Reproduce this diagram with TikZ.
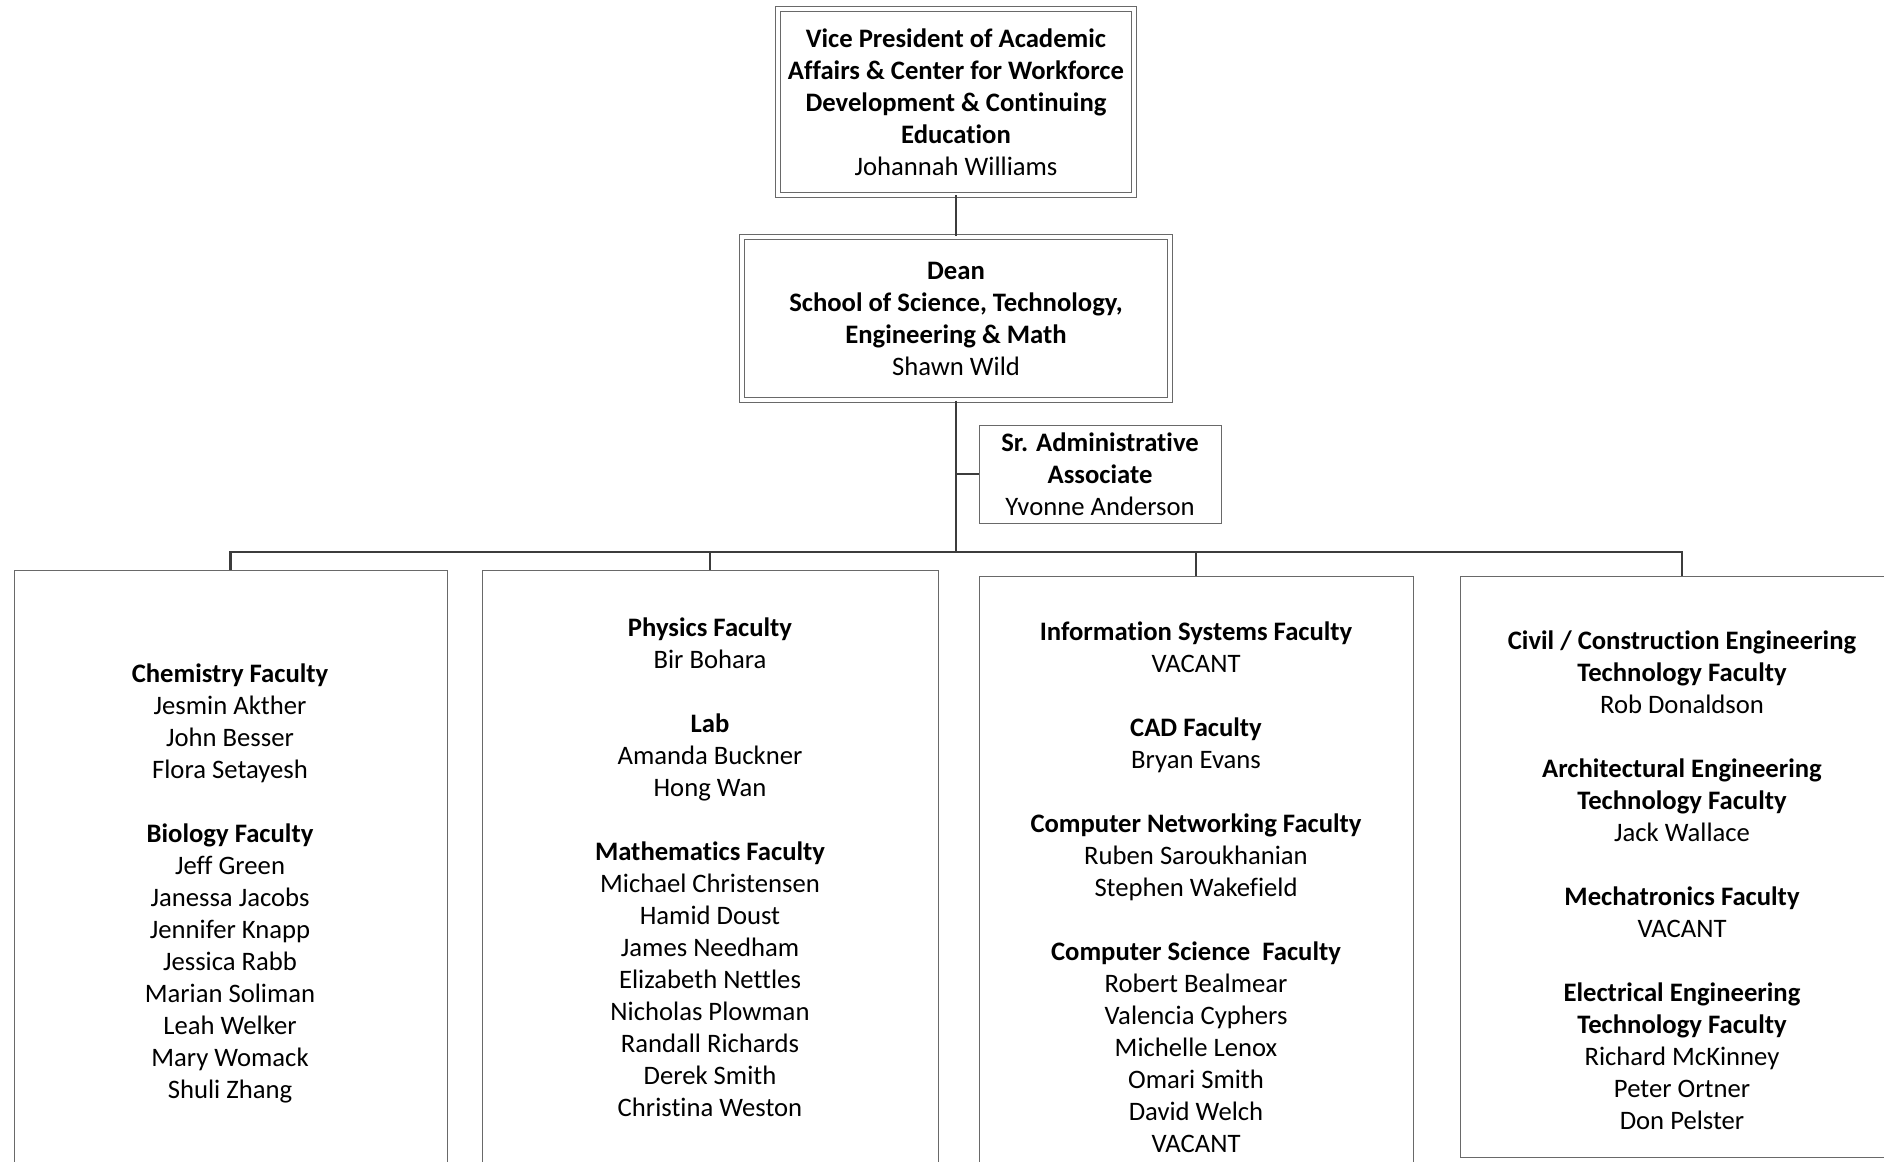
\documentclass[tikz,border=0pt]{standalone}
\usepackage{fontspec}
\setmainfont{Carlito}[Ligatures=NoCommon]
\usetikzlibrary{positioning}
\definecolor{framegray}{RGB}{105,105,105}
\definecolor{linkgray}{RGB}{60,60,60}

\tikzset{
  person/.style={font=\fontsize{20}{24}\selectfont, align=center, inner sep=0pt},
  frame/.style={draw=framegray, line width=0.75pt, inner sep=0pt},
  dblframe/.style={frame, double, double distance=3pt},
  link/.style={draw=linkgray, line width=1.5pt},
  trunk/.style={draw=linkgray, line width=2pt},
}

\begin{document}
\begin{tikzpicture}[x=0.75pt, y=-0.75pt]
  \useasboundingbox (0,0) rectangle (1884,1162);
  \clip (0,0) rectangle (1884,1162);

  % --- Vice president and dean ---
  \node[dblframe, person, minimum width=267pt, minimum height=139.5pt] (vp) at (956,102)
    {\textbf{Vice President of Academic}\\\textbf{Affairs \& Center for Workforce}\\
     \textbf{Development \& Continuing}\\\textbf{Education}\\Johannah Williams};
  \node[dblframe, person, minimum width=321pt, minimum height=122.25pt] (dean) at (956,318.5)
    {\textbf{Dean}\\\textbf{School of Science, Technology,}\\\textbf{Engineering \& Math}\\Shawn Wild};

  % --- Assistant ---
  \node[frame, person, minimum width=181.5pt, minimum height=73.5pt] (admin) at (1100,474)
    {\textbf{Sr. Administrative}\\\textbf{Associate}\\Yvonne Anderson};

  % --- Faculty boxes ---
  \node[frame, minimum width=324.75pt, minimum height=480pt, anchor=north] (box1) at (230.5,570) {};
  \node[frame, minimum width=342pt, minimum height=480pt, anchor=north] (box2) at (710,570) {};
  \node[frame, minimum width=325.5pt, minimum height=480pt, anchor=north] (box3) at (1196,576) {};
  \node[frame, minimum width=333pt, minimum height=435.75pt, anchor=north] (box4) at (1682,576) {};

  \node[person] (chem) at (230,883)
    {\textbf{Chemistry Faculty}\\Jesmin Akther\\John Besser\\Flora Setayesh\\[24pt]
     \textbf{Biology Faculty}\\Jeff Green\\Janessa Jacobs\\Jennifer Knapp\\Jessica Rabb\\
     Marian Soliman\\Leah Welker\\Mary Womack\\Shuli Zhang};
  \node[person] (phys) at (710,867)
    {\textbf{Physics Faculty}\\Bir Bohara\\[24pt]
     \textbf{Lab}\\Amanda Buckner\\Hong Wan\\[24pt]
     \textbf{Mathematics Faculty}\\Michael Christensen\\Hamid Doust\\James Needham\\
     Elizabeth Nettles\\Nicholas Plowman\\Randall Richards\\Derek Smith\\Christina Weston};
  \node[person] (info) at (1196,887)
    {\textbf{Information Systems Faculty}\\VACANT\\[24pt]
     \textbf{CAD Faculty}\\Bryan Evans\\[24pt]
     \textbf{Computer Networking Faculty}\\Ruben Saroukhanian\\Stephen Wakefield\\[24pt]
     \textbf{Computer Science\ \ Faculty}\\Robert Bealmear\\Valencia Cyphers\\Michelle Lenox\\
     Omari Smith\\David Welch\\VACANT};
  \node[person] (civil) at (1682,880)
    {\textbf{Civil / Construction Engineering}\\\textbf{Technology Faculty}\\Rob Donaldson\\[24pt]
     \textbf{Architectural Engineering}\\\textbf{Technology Faculty}\\Jack Wallace\\[24pt]
     \textbf{Mechatronics Faculty}\\VACANT\\[24pt]
     \textbf{Electrical Engineering}\\\textbf{Technology Faculty}\\Richard McKinney\\
     Peter Ortner\\Don Pelster};

  % --- Connectors ---
  \coordinate (bus) at (956,552);
  \draw[link] (vp) -- (dean);
  \draw[trunk] (dean) -- (bus);
  \draw[link] (admin.west) -- (admin.west -| dean.south);
  \draw[trunk] (bus) -| (box1.north);
  \draw[link] (bus -| box2.north) -- (box2.north);
  \draw[trunk] (bus) -| (box4.north);
  \draw[link] (bus -| box3.north) -- (box3.north);

\end{tikzpicture}
\end{document}
